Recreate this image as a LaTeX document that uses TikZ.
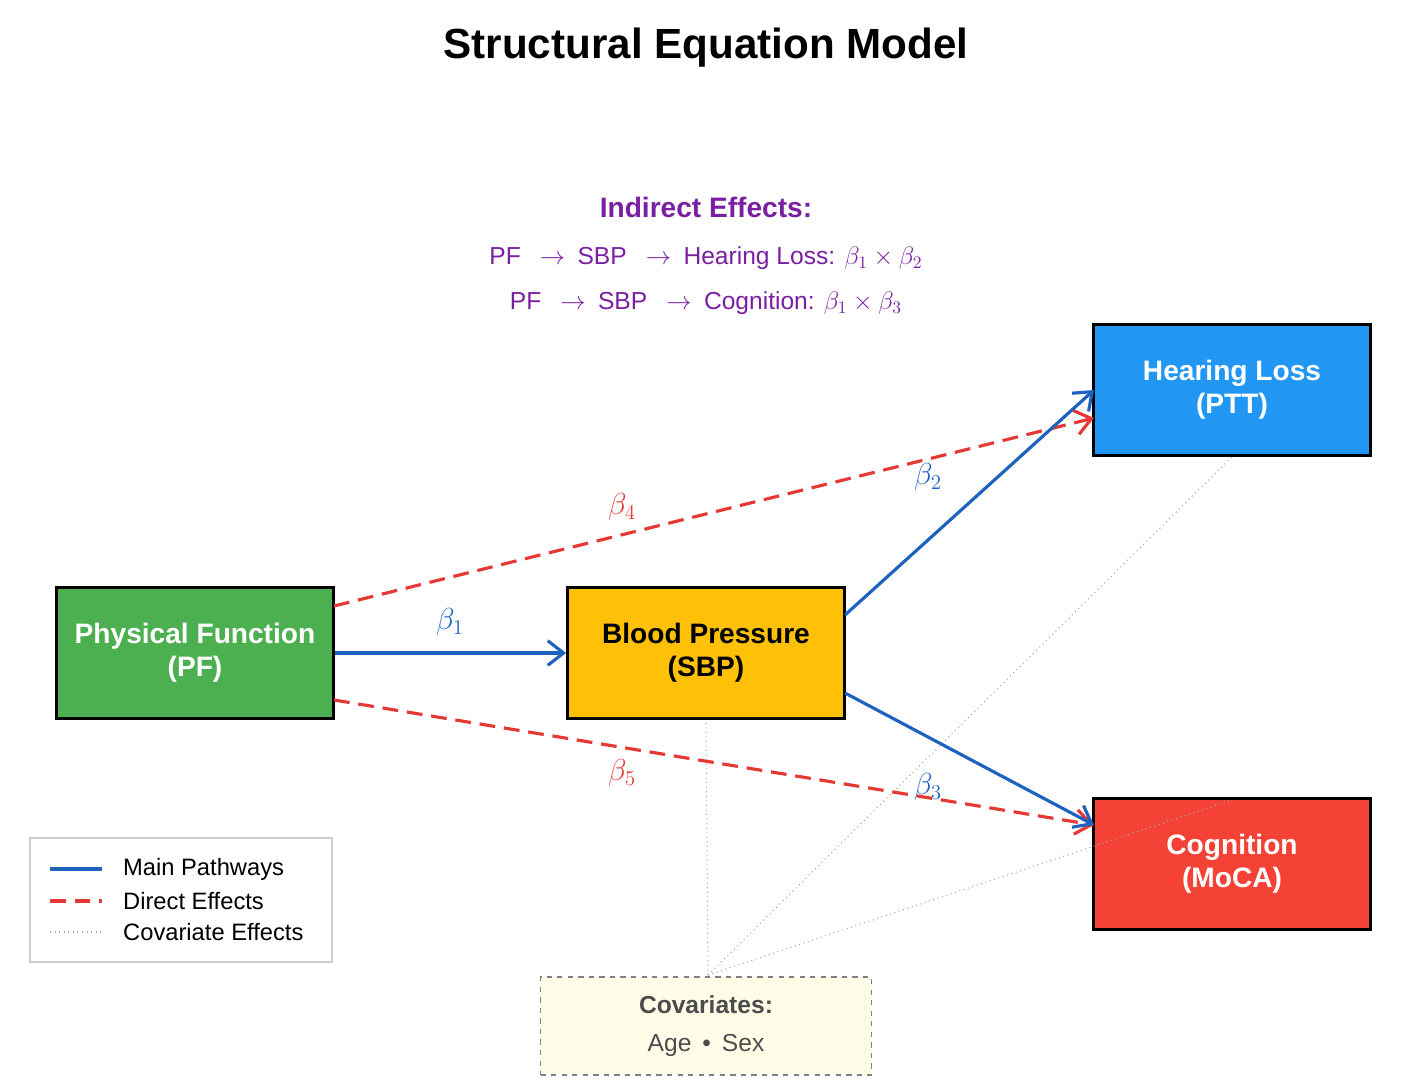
\documentclass[tikz,border=0pt]{standalone}
\usepackage{fontspec}
\setmainfont{Liberation Sans}
\usetikzlibrary{arrows.meta}
\definecolor{pfg}{HTML}{4CAF50}
\definecolor{sbpy}{HTML}{FFC107}
\definecolor{hlb}{HTML}{2196F3}
\definecolor{cogr}{HTML}{F44336}
\definecolor{mainb}{HTML}{1E62C0}
\definecolor{dirr}{HTML}{E53935}
\definecolor{purp}{HTML}{7B1FA2}
\definecolor{covf}{HTML}{FFFDE7}
\begin{document}
\begin{tikzpicture}[x=0.02cm,y=-0.02cm,
 box/.style={draw=black,line width=1.6pt,minimum width=5.54cm,minimum height=2.62cm,align=center,font=\fontsize{16}{19}\selectfont\bfseries},
 main/.style={mainb,line width=1.8pt,-{Straight Barb[length=9pt,width=14pt,line width=1.8pt]}},
 direct/.style={dirr,line width=1.8pt,dash pattern=on 9pt off 5pt,-{Straight Barb[length=9pt,width=14pt,line width=1.8pt]}},
 cov/.style={gray!70,line width=0.6pt,dotted},
 beta/.style={font=\fontsize{17}{20}\selectfont},
 ind/.style={purp,font=\fontsize{14}{17}\selectfont}]
\useasboundingbox (0,0) rectangle (1401,1091);
\node[font=\fontsize{24}{28}\selectfont\bfseries] (title) at (706,48) {Structural Equation Model};
\node[purp,font=\fontsize{16}{19}\selectfont\bfseries] (ih) at (706,207) {Indirect Effects:};
\node[ind] (i1) at (706,258) {PF \enspace$\rightarrow$\enspace SBP \enspace$\rightarrow$\enspace Hearing Loss: $\beta_1\times\beta_2$};
\node[ind] (i2) at (706,303) {PF \enspace$\rightarrow$\enspace SBP \enspace$\rightarrow$\enspace Cognition: $\beta_1\times\beta_3$};

\node[box,fill=pfg,text=white] (pf) at (195,653) {Physical Function\\(PF)};
\node[box,fill=sbpy,text=black] (sbp) at (706,653) {Blood Pressure\\(SBP)};
\node[box,fill=hlb,text=white] (hl) at (1232,390) {Hearing Loss\\(PTT)};
\node[box,fill=cogr,text=white] (cog) at (1232,864) {Cognition\\(MoCA)};
\node[draw=gray,dashed,line width=0.8pt,fill=covf,minimum width=6.62cm,minimum height=1.96cm,align=center,text=black!70,font=\fontsize{14}{22}\selectfont] (cv) at (706,1026) {\textbf{Covariates:}\\Age \,\textbullet\, Sex};

\coordinate (cvt) at (708,975);
\draw[cov] (cvt) -- (sbp.south);
\draw[cov] (cvt) -- (hl.south);
\draw[cov] (cvt) -- (1232,800);

\draw[direct] (334,606) -- (1094,418);
\draw[direct] (334,700) -- (1094,825);
\draw[main] (pf.east) -- (sbp.west);
\draw[main] (845,615) -- (1094,390);
\draw[main] (845,693) -- (1094,825);

\node[beta,mainb] (b1) at (450,622) {$\beta_1$};
\node[beta,mainb] (b2) at (928,477) {$\beta_2$};
\node[beta,mainb] (b3) at (928,787) {$\beta_3$};
\node[beta,dirr] (b4) at (622,507) {$\beta_4$};
\node[beta,dirr] (b5) at (622,773) {$\beta_5$};

\node[draw=black!20,line width=0.8pt,fill=white,minimum width=6.04cm,minimum height=2.48cm] (leg) at (181,900) {};
\draw[mainb,line width=1.8pt] (50,869) -- (102,869);
\draw[dirr,line width=1.8pt,dash pattern=on 9pt off 5pt] (50,901) -- (102,901);
\draw[cov] (50,932) -- (102,932);
\node[anchor=west,font=\fontsize{13.5}{16}\selectfont] (l1) at (117,869) {Main Pathways};
\node[anchor=west,font=\fontsize{13.5}{16}\selectfont] (l2) at (117,901) {Direct Effects};
\node[anchor=west,font=\fontsize{13.5}{16}\selectfont] (l3) at (117,932) {Covariate Effects};
\end{tikzpicture}
\end{document}
